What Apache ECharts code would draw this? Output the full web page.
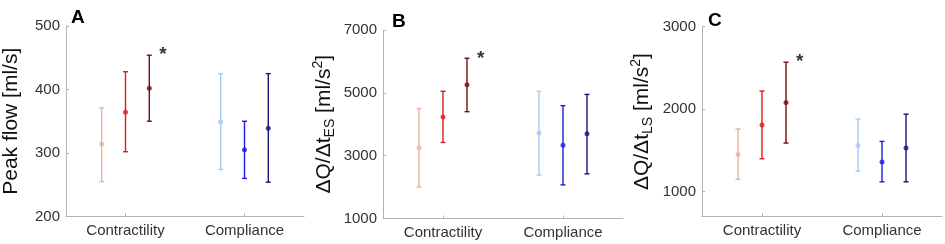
<!DOCTYPE html>
<html lang="en" style="height: 100%">
<head>
<meta charset="utf-8">
<title>Peak flow and flow slopes</title>
</head>
<body style="height: 100%; margin: 0; background: #fff">
<div id="container" style="width: 945px; height: 244px"></div>

<script type="text/javascript" src="https://cdn.jsdelivr.net/npm/echarts/dist/echarts.min.js"></script>

<script type="text/javascript">

// categories and group members (3 levels each)
var groups = ['Contractility', 'Compliance'];
var offsets = [-0.2, 0, 0.2];
var colors = ['#ebb29c', '#d71f1f', '#7c0b0b', '#a7ccf1', '#1d1ddf', '#151578'];

// panel A: peak flow [ml/s]
var peakMean = [314, 364, 402, 349, 305, 339];
var peakLow = [255, 302, 350, 274, 260, 254];
var peakHigh = [371, 428, 454, 425, 350, 425];
var peakTicks = [200, 300, 400, 500];

// panel B: dQ/dt ES [ml/s^2]
var esMean = [3250, 4230, 5260, 3720, 3330, 3700];
var esLow = [2000, 3420, 4400, 2380, 2070, 2420];
var esHigh = [4500, 5050, 6100, 5050, 4590, 4950];
var esTicks = [1000, 3000, 5000, 7000];

// panel C: dQ/dt LS [ml/s^2]
var lsMean = [1450, 1810, 2080, 1560, 1360, 1530];
var lsLow = [1150, 1400, 1590, 1250, 1120, 1120];
var lsHigh = [1760, 2220, 2570, 1880, 1610, 1940];
var lsTicks = [1000, 2000, 3000];

// which item gets the significance star
var starItem = 2;

var dom = document.getElementById('container');
var myChart = echarts.init(dom);

var font = 'Liberation Sans, Arial, sans-serif';
var axisGray = '#b4b4b4';

function xPos(i) {
    return Math.floor(i / 3) + 1 + offsets[i % 3];
}

function makeXAxis(gi) {
    return {
        type: 'value', gridIndex: gi, min: 0.5, max: 2.5,
        axisLine: { show: true, lineStyle: { color: axisGray, width: 1 } },
        axisTick: { show: true, inside: true, length: 3, customValues: [1, 2], lineStyle: { color: axisGray } },
        splitLine: { show: false },
        axisLabel: {
            customValues: [1, 2], margin: 7, fontSize: 15, fontFamily: font, color: '#333',
            formatter: function (v) { return groups[Math.round(v) - 1]; }
        }
    };
}

function makeYAxis(gi, min, max, ticks, name, rich, gap) {
    return {
        type: 'value', gridIndex: gi, min: min, max: max,
        name: name, nameLocation: 'middle', nameGap: gap,
        nameTextStyle: { fontSize: 21, fontFamily: font, color: '#111', rich: rich },
        axisLine: { show: true, lineStyle: { color: axisGray, width: 1 } },
        axisTick: { show: true, inside: true, length: 3, customValues: ticks, lineStyle: { color: axisGray } },
        splitLine: { show: false },
        axisLabel: {
            customValues: ticks, margin: 6, fontSize: 15, fontFamily: font, color: '#333',
            formatter: function (v) { return String(v); }
        }
    };
}

function errorSeries(gi, low, high) {
    return {
        type: 'custom', xAxisIndex: gi, yAxisIndex: gi, silent: true,
        renderItem: function (params, api) {
            var x = api.value(0);
            var top = api.coord([x, api.value(2)]);
            var bot = api.coord([x, api.value(1)]);
            var c = api.visual('color');
            var st = { stroke: c, lineWidth: 1.4 };
            var w = 2.5;
            return {
                type: 'group',
                children: [
                    { type: 'line', shape: { x1: top[0], y1: top[1], x2: bot[0], y2: bot[1] }, style: st },
                    { type: 'line', shape: { x1: top[0] - w, y1: top[1], x2: top[0] + w, y2: top[1] }, style: st },
                    { type: 'line', shape: { x1: bot[0] - w, y1: bot[1], x2: bot[0] + w, y2: bot[1] }, style: st }
                ]
            };
        },
        data: low.map(function (v, i) {
            return { value: [xPos(i), v, high[i]], itemStyle: { color: colors[i] } };
        })
    };
}

function meanSeries(gi, mean) {
    return {
        type: 'scatter', xAxisIndex: gi, yAxisIndex: gi, symbolSize: 5, z: 3,
        data: mean.map(function (v, i) {
            return { value: [xPos(i), v], itemStyle: { color: colors[i] } };
        })
    };
}

function starSeries(gi, high) {
    return {
        type: 'scatter', xAxisIndex: gi, yAxisIndex: gi, symbolSize: 0,
        label: {
            show: true, position: 'inside', formatter: '*',
            fontSize: 19, fontWeight: 'bold', fontFamily: font, color: '#000'
        },
        data: [[xPos(starItem) + 0.115, high[starItem]]]
    };
}

var subRich = {
    a: { fontSize: 21, fontFamily: font, color: '#111', lineHeight: 26 },
    s: { fontSize: 14, fontFamily: font, color: '#111', lineHeight: 14, verticalAlign: 'bottom' },
    p: { fontSize: 14, fontFamily: font, color: '#111', lineHeight: 14, verticalAlign: 'top' }
};

var option = {
    animation: false,
    title: [
        { text: 'A', left: 66, top: 3, textStyle: { fontSize: 19, fontWeight: 'bold', fontFamily: font, color: '#000' } },
        { text: 'B', left: 387, top: 7, textStyle: { fontSize: 19, fontWeight: 'bold', fontFamily: font, color: '#000' } },
        { text: 'C', left: 703, top: 6, textStyle: { fontSize: 19, fontWeight: 'bold', fontFamily: font, color: '#000' } }
    ],
    grid: [
        { left: 64, top: 26, width: 240, height: 190.5 },
        { left: 383, top: 30, width: 240, height: 188.5 },
        { left: 702, top: 26.7, width: 240, height: 189.8 }
    ],
    xAxis: [makeXAxis(0), makeXAxis(1), makeXAxis(2)],
    yAxis: [
        makeYAxis(0, 200, 500, peakTicks, 'Peak flow [ml/s]', null, 44),
        makeYAxis(1, 1000, 7000, esTicks, '{a|ΔQ/Δt}{s|ES}{a| [ml/s}{p|2}{a|]}', subRich, 46),
        makeYAxis(2, 700, 3000, lsTicks, '{a|ΔQ/Δt}{s|LS}{a| [ml/s}{p|2}{a|]}', subRich, 47)
    ],
    series: [
        errorSeries(0, peakLow, peakHigh), meanSeries(0, peakMean), starSeries(0, peakHigh),
        errorSeries(1, esLow, esHigh), meanSeries(1, esMean), starSeries(1, esHigh),
        errorSeries(2, lsLow, lsHigh), meanSeries(2, lsMean), starSeries(2, lsHigh)
    ]
};

if (option && typeof option === 'object') {
    myChart.setOption(option);
}

window.addEventListener('resize', myChart.resize);
</script>
</body>
</html>
